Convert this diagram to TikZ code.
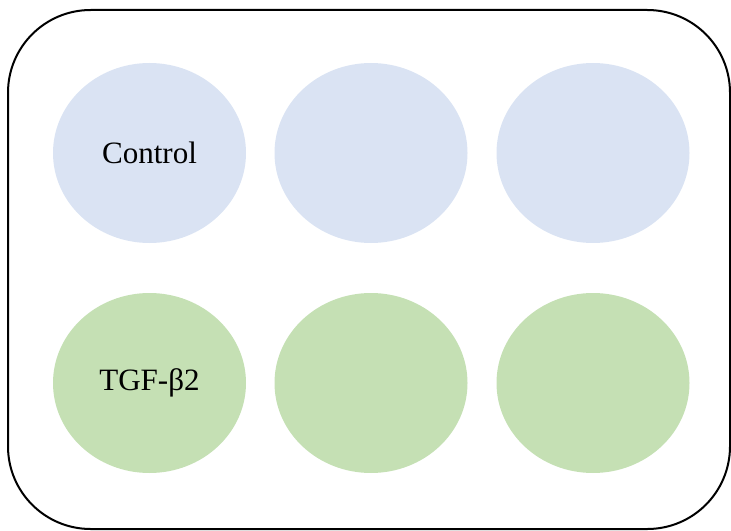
\documentclass[tikz,border=0pt]{standalone}
\usepackage{fontspec}
\setmainfont{Liberation Serif}
\usetikzlibrary{shapes.geometric}
\definecolor{wellblue}{HTML}{DAE3F3}
\definecolor{wellgreen}{HTML}{C5E0B4}
\tikzset{
  well/.style={ellipse, minimum width=144.75pt, minimum height=135pt, inner sep=0pt, draw=none},
  bluewell/.style={well, fill=wellblue},
  greenwell/.style={well, fill=wellgreen},
  lbl/.style={font=\fontsize{23.3pt}{28pt}\selectfont},
}
\begin{document}
\begin{tikzpicture}[x=0.75pt,y=-0.75pt]
\useasboundingbox (0,0) rectangle (731,531);
\draw[line width=1.5pt, rounded corners=62pt] (8,10) rectangle (730,529);
\node[bluewell, lbl] (c1) at (149.5,153) {Control};
\node[bluewell] (c2) at (371,153) {};
\node[bluewell] (c3) at (593,153) {};
\node[greenwell, lbl] (t1) at (149.5,383) {TGF-β2};
\node[greenwell] (t2) at (371,383) {};
\node[greenwell] (t3) at (593,383) {};
\end{tikzpicture}
\end{document}
